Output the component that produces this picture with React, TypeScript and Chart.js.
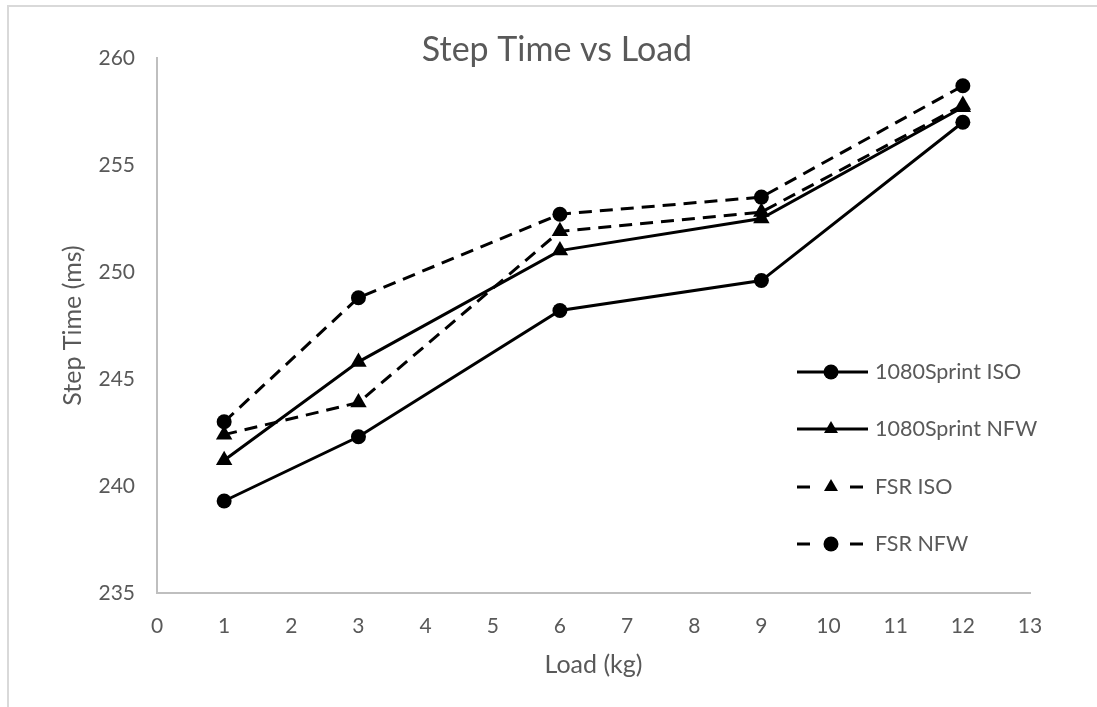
import React, { useEffect, useRef } from "react";
import { Chart, registerables } from "chart.js";

Chart.register(...registerables);

// ---- data ----
const loads = [1, 3, 6, 9, 12];
const sprintISO = [239.3, 242.3, 248.2, 249.6, 257.0];
const sprintNFW = [241.2, 245.8, 251.0, 252.5, 257.7];
const fsrISO = [242.4, 243.9, 251.9, 252.8, 257.8];
const fsrNFW = [243.0, 248.8, 252.7, 253.5, 258.7];
const seriesNames = ["1080Sprint ISO", "1080Sprint NFW", "FSR ISO", "FSR NFW"];
const chartTitle = "Step Time vs Load";
const xTitle = "Load (kg)";
const yTitle = "Step Time (ms)";
const xMin = 0;
const xMax = 13;
const yMin = 235;
const yMax = 260;
const yStep = 5;

const FONT = "Lato, 'Open Sans', sans-serif";
const TEXT = "#595959";
const DASH = [13, 8];

const toPoints = (ys: number[]) => loads.map((x, i) => ({ x, y: ys[i] }));

const titlePlugin = {
  id: "customTitle",
  afterDraw(chart: any) {
    const ctx = chart.ctx;
    ctx.save();
    ctx.font = `34px ${FONT}`;
    ctx.fillStyle = TEXT;
    ctx.textAlign = "center";
    ctx.textBaseline = "middle";
    ctx.fillText(chartTitle, 557, 50);
    ctx.restore();
  },
};

const borderPlugin = {
  id: "outerBorder",
  beforeDraw(chart: any) {
    const ctx = chart.ctx;
    ctx.save();
    ctx.strokeStyle = "#d9d9d9";
    ctx.lineWidth = 2;
    ctx.beginPath();
    ctx.moveTo(8, chart.height);
    ctx.lineTo(8, 6);
    ctx.lineTo(chart.width, 6);
    ctx.stroke();
    ctx.restore();
  },
};

const legendPlugin = {
  id: "customLegend",
  afterDraw(chart: any) {
    const ctx = chart.ctx;
    const x0 = 797;
    const x1 = 868;
    const xm = 831;
    const rows = [372, 429, 487, 544];
    chart.data.datasets.forEach((ds: any, i: number) => {
      const y = rows[i];
      ctx.save();
      ctx.strokeStyle = ds.borderColor;
      ctx.lineWidth = ds.borderWidth;
      ctx.lineCap = "butt";
      if (ds.borderDash && ds.borderDash.length) {
        ctx.setLineDash([13, 40]);
      } else {
        ctx.setLineDash([]);
      }
      ctx.beginPath();
      ctx.moveTo(x0, y);
      ctx.lineTo(x1, y);
      ctx.stroke();
      ctx.setLineDash([]);
      ctx.fillStyle = ds.pointBackgroundColor;
      const r = ds.pointRadius;
      ctx.beginPath();
      if (ds.pointStyle === "triangle") {
        const rr = r * 0.85;
        ctx.moveTo(xm, y - rr);
        ctx.lineTo(xm + rr * 0.866, y + rr * 0.5);
        ctx.lineTo(xm - rr * 0.866, y + rr * 0.5);
        ctx.closePath();
      } else {
        ctx.arc(xm, y, r, 0, Math.PI * 2);
      }
      ctx.fill();
      ctx.font = `21.5px ${FONT}`;
      ctx.fillStyle = TEXT;
      ctx.textAlign = "left";
      ctx.textBaseline = "middle";
      ctx.fillText(ds.label, 875, y);
      ctx.restore();
    });
  },
};

export default function App() {
  const ref = useRef<HTMLCanvasElement | null>(null);

  useEffect(() => {
    if (!ref.current) return;
    const mk = (label: string, ys: number[], style: string, dashed: boolean) => ({
      label,
      data: toPoints(ys),
      borderColor: "#000000",
      backgroundColor: "#000000",
      borderWidth: 3,
      borderDash: dashed ? DASH : [],
      pointStyle: style,
      pointRadius: style === "triangle" ? 9.5 : 7.5,
      pointBackgroundColor: "#000000",
      pointBorderColor: "#000000",
      pointBorderWidth: 0,
      tension: 0,
      fill: false,
    });
    const chart = new Chart(ref.current, {
      type: "line",
      data: {
        datasets: [
          mk(seriesNames[0], sprintISO, "circle", false),
          mk(seriesNames[1], sprintNFW, "triangle", false),
          mk(seriesNames[2], fsrISO, "triangle", true),
          mk(seriesNames[3], fsrNFW, "circle", true),
        ],
      },
      options: {
        animation: false,
        responsive: false,
        maintainAspectRatio: false,
        events: [],
        layout: { padding: { top: 58, right: 67, bottom: 0, left: 0 } },
        plugins: {
          legend: { display: false },
          tooltip: { enabled: false },
          title: { display: false },
        },
        scales: {
          x: {
            type: "linear",
            min: xMin,
            max: xMax,
            grid: { display: false, drawTicks: false },
            border: { display: true, color: "#bfbfbf", width: 2 },
            ticks: {
              stepSize: 1,
              autoSkip: false,
              maxRotation: 0,
              padding: 21,
              color: TEXT,
              font: { family: FONT, size: 21 },
            },
            title: {
              display: true,
              text: xTitle,
              color: TEXT,
              font: { family: FONT, size: 25 },
              padding: { top: 0, bottom: 27 },
            },
            afterFit(scale: any) {
              scale.height = 114;
            },
          },
          y: {
            type: "linear",
            min: yMin,
            max: yMax,
            grid: { display: false, drawTicks: false },
            border: { display: true, color: "#bfbfbf", width: 2 },
            ticks: {
              stepSize: yStep,
              padding: 22,
              color: TEXT,
              font: { family: FONT, size: 21 },
            },
            title: {
              display: true,
              text: yTitle,
              color: TEXT,
              font: { family: FONT, size: 25 },
              padding: { top: 58, bottom: 0 },
            },
            afterFit(scale: any) {
              scale.width = 157;
            },
          },
        },
      } as any,
      plugins: [borderPlugin, titlePlugin, legendPlugin],
    });
    return () => chart.destroy();
  }, []);

  return (
    <div style={{ position: "fixed", left: 0, top: 0, width: 1097, height: 707, background: "#fff" }}>
      <canvas ref={ref} width={1097} height={707} style={{ display: "block", width: 1097, height: 707 }} />
    </div>
  );
}
